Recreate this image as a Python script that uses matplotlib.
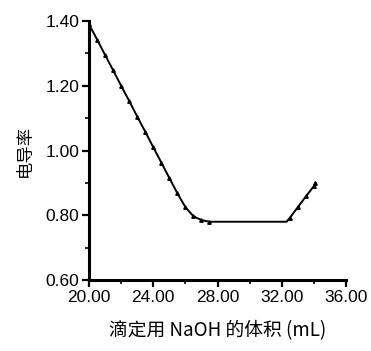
import matplotlib
matplotlib.use('Agg')
import matplotlib.pyplot as plt
import matplotlib.ticker as mticker

plt.rcParams['font.family'] = ['Liberation Sans', 'Noto Sans CJK SC']

# NaOH volume (mL) and conductivity readings
volume = [20.0, 20.5, 21.0, 21.5, 22.0, 22.5, 23.0, 23.5, 24.0, 24.5, 25.0, 25.5,
          26.0, 26.5, 27.0, 27.5, 28.0, 29.0, 30.0, 31.0, 32.0, 32.3,
          32.5, 33.0, 33.5, 34.0, 34.1]
conductivity = [1.39, 1.343, 1.295, 1.248, 1.20, 1.153, 1.105, 1.058, 1.01, 0.963, 0.915, 0.868,
                0.825, 0.797, 0.785, 0.78, 0.78, 0.78, 0.78, 0.78, 0.78, 0.78,
                0.792, 0.825, 0.858, 0.89, 0.90]

x_ticks = [20.0, 24.0, 28.0, 32.0, 36.0]
y_ticks = [0.60, 0.80, 1.00, 1.20, 1.40]

fig = plt.figure(figsize=(3.71, 3.51), dpi=100)
ax = fig.add_axes([0.24, 0.2023, 0.6926, 0.7377])

ax.plot(volume, conductivity, color='black', linewidth=1.4,
        marker='^', markersize=2.5, markevery=slice(0, 16))
ax.plot(volume[22:], conductivity[22:], linestyle='none', color='black',
        marker='^', markersize=2.5)

ax.set_xlim(20, 36)
ax.set_ylim(0.60, 1.40)
ax.set_xticks(x_ticks)
ax.set_yticks(y_ticks)
ax.xaxis.set_minor_locator(mticker.MultipleLocator(2))
ax.yaxis.set_minor_locator(mticker.MultipleLocator(0.1))
ax.xaxis.set_major_formatter(mticker.FormatStrFormatter('%.2f'))
ax.yaxis.set_major_formatter(mticker.FormatStrFormatter('%.2f'))

for side in ['top', 'right']:
    ax.spines[side].set_visible(False)
for side in ['left', 'bottom']:
    ax.spines[side].set_linewidth(2.2)

ax.tick_params(which='major', direction='out', length=5, width=1.6, labelsize=12.5, pad=2)
ax.tick_params(which='minor', direction='out', length=3, width=1.2)

ax.set_xlabel('滴定用 NaOH 的体积 (mL)', fontsize=13.5, labelpad=11,
              family=['Noto Sans CJK SC', 'Liberation Sans'])
ax.set_ylabel('电导率', fontsize=12.5, labelpad=8,
              family=['Noto Sans CJK SC', 'Liberation Sans'])

fig.savefig('out.png', dpi=100, facecolor='white')
